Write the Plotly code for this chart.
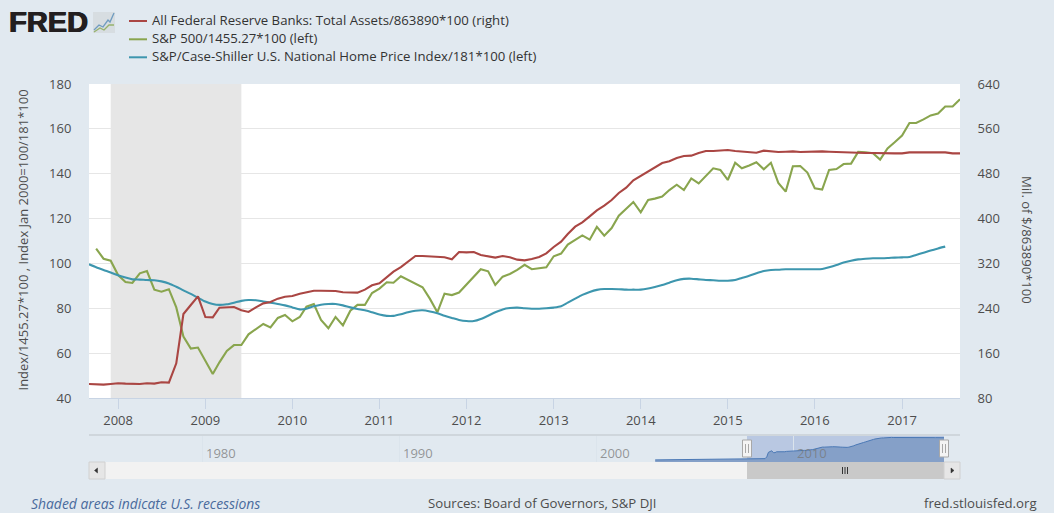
import pandas as pd
import plotly.graph_objects as go

W, H = 1054, 513

fed_name = "All Federal Reserve Banks: Total Assets/863890*100 (right)"
sp_name = "S&P 500/1455.27*100 (left)"
cs_name = "S&P/Case-Shiller U.S. National Home Price Index/181*100 (left)"

# Sep 2007 onward, monthly
fed = [105,104.4,103.8,105,106.2,105.6,105,105,106.2,105.6,108,107.4,141.8,229.8,245.9,261.3,224.5,223.9,241.1,241.1,
       242.3,236.4,233.4,241.7,248.8,251.2,257.2,260.7,261.9,266.1,269.1,271.4,271.4,271.4,270.8,268.5,267.9,267.9,273.2,281,284.5,
       294.6,305.3,313.6,323.1,333.2,333.2,332.1,331.5,330.9,327.3,340.4,339.8,340.4,335,333.2,330.3,333.2,330.9,326.7,325.5,
       327.9,331.5,338,349.3,358.8,372.5,385.6,393.3,404,414.7,423,433.1,445.6,455.1,468.2,475.9,483.1,491.4,499.1,502.1,
       508,511.6,512.2,516.9,520.5,520.5,521.7,522.3,520.5,519.9,518.7,517.5,521.1,519.9,518.7,519.3,519.9,518.7,519.3,519.3,
       519.9,519.3,518.7,517.5,517.5,517.5,516.9,516.9,516.3,515.7,516.3,516.3,518.1,518.1,518.1,516.9,517.5,518.1,516.3,516.3]
# Oct 2007 onward, monthly
sp500 = [106.6,102.1,101.2,94.8,91.7,91.3,95.6,96.6,88.3,87.4,88.5,80.4,67.4,62.0,62.5,56.6,50.7,55.9,61.0,63.6,
         63.6,68.4,70.8,73.0,71.5,75.7,77.0,74.2,76.1,80.7,81.9,74.8,71.1,76.1,72.4,78.9,81.5,81.5,86.8,88.8,
         91.6,91.4,94.3,92.6,91.1,89.4,84.2,78.2,86.5,85.9,87.0,90.5,94.1,97.4,96.5,90.4,94.1,95.3,97.1,99.4,
         97.4,97.7,98.3,103.2,104.4,108.4,110.3,112.5,110.6,116.3,112.4,115.8,121.3,124.3,127.4,122.8,128.3,128.9,129.8,132.7,
         135.1,132.7,137.9,135.7,139.0,142.4,141.7,137.2,144.9,142.4,143.7,145.1,142.0,144.9,135.9,132.0,143.3,143.4,140.5,133.5,
         132.9,141.7,142.1,144.3,144.5,149.7,149.5,149.1,146.3,151.3,154.0,157.0,162.6,162.6,164.2,166.0,166.8,170.0,170.0,173.2]
# Sep 2007 onward, monthly
case_shiller = [99.6,98.3,97.1,96.0,94.7,93.7,92.9,92.8,92.6,92.5,92.0,91.1,89.6,88.0,86.4,84.7,83.0,81.9,81.5,81.8,
                82.5,83.3,83.7,83.6,83.0,82.5,81.9,81.3,80.4,79.5,79.8,80.9,81.6,81.9,81.9,81.3,80.4,79.7,79.1,78.2,77.2,
                76.6,76.6,77.3,78.2,78.9,79.1,78.6,77.8,76.7,75.7,74.8,74.3,74.3,75.2,76.7,78.2,79.5,80.1,80.3,80.0,
                79.8,79.8,80.0,80.3,80.9,82.5,84.3,86.0,87.3,88.2,88.6,88.6,88.5,88.3,88.3,88.3,88.8,89.5,90.4,91.4,
                92.5,93.1,93.2,92.9,92.6,92.5,92.3,92.3,92.6,93.5,94.5,95.6,96.6,97.1,97.2,97.4,97.4,97.4,97.4,97.4,
                97.5,98.3,99.3,100.4,101.2,101.8,102.1,102.3,102.3,102.4,102.6,102.7,102.9,103.8,104.8,105.8,106.7,107.5]

months_fed = pd.date_range("2007-09-01", periods=len(fed), freq="MS")
months_sp = pd.date_range("2007-10-01", periods=len(sp500), freq="MS")
months_cs = pd.date_range("2007-09-01", periods=len(case_shiller), freq="MS")

# navigator's earlier history of the Fed series
nav_early_dates = ["2003-01-01", "2004-06-01", "2005-08-01", "2007-04-01"]
nav_early_values = [83, 90, 92, 105]

recession = ["2007-12-01", "2009-06-01"]
left_ticks = [40, 60, 80, 100, 120, 140, 160, 180]
right_ticks = [80, 160, 240, 320, 400, 480, 560, 640]
nav_years = ["1980", "1990", "2000", "2010"]

RED, GREEN, BLUE = "#AA4643", "#89A54E", "#3D96AE"
BG = "#e1e9f0"
FONT = "Open Sans"
TXT = "#4d4d4d"


def X(p):
    return p / W


def Y(p):
    return 1 - p / H


L, R, T, B = 89, 960, 84, 398

fig = go.Figure()
line_w = 2.1
fig.add_trace(go.Scatter(x=months_fed, y=fed, mode="lines", name=fed_name, yaxis="y2",
                         line=dict(color=RED, width=line_w)))
fig.add_trace(go.Scatter(x=months_sp, y=sp500, mode="lines", name=sp_name,
                         line=dict(color=GREEN, width=line_w)))
fig.add_trace(go.Scatter(x=months_cs, y=case_shiller, mode="lines", name=cs_name,
                         line=dict(color=BLUE, width=line_w, shape="spline", smoothing=0.7)))
fig.add_trace(go.Scatter(x=nav_early_dates + list(months_fed), y=nav_early_values + fed, mode="lines",
                         xaxis="x2", yaxis="y3", fill="tozeroy", fillcolor="#85a0c8",
                         line=dict(color="#4a78b5", width=1), hoverinfo="skip"))


def rect(x0, y0, x1, y1, fill, line=None, layer="above", lw=1):
    return dict(type="rect", xref="paper", yref="paper", x0=X(x0), x1=X(x1), y0=Y(y0), y1=Y(y1),
                fillcolor=fill, line=dict(color=line or fill, width=lw if line else 0), layer=layer)


def hline(x0, y0, x1, y1, color, w=1, layer="above"):
    return dict(type="line", xref="paper", yref="paper", x0=X(x0), x1=X(x1), y0=Y(y0), y1=Y(y1),
                line=dict(color=color, width=w), layer=layer)


def poly(pts, color=None, w=1.3, fill=None):
    d = "M " + " L ".join(f"{X(a):.5f},{Y(b):.5f}" for a, b in pts)
    if fill:
        d += " Z"
    return dict(type="path", xref="paper", yref="paper", path=d, layer="above",
                line=dict(color=color or fill, width=w), fillcolor=fill)


shapes = [rect(L, T, R, B, "#ffffff", layer="below")]
shapes.append(dict(type="rect", xref="x", yref="y domain", x0=recession[0], x1=recession[1], y0=0, y1=1,
                   fillcolor="#e6e6e6", line=dict(width=0), layer="below"))

# navigator furniture
shapes.append(hline(L, 435, R, 435, "#cfd6dc", 2))
shapes.append(rect(747, 436, 944, 462, "#b9c8e2", layer="below"))
shapes.append(rect(L, 462, R, 479, "#f2f2f2"))
shapes.append(rect(747, 462, 944, 479, "#c9c9c9"))
shapes.append(rect(L, 462, 105, 479, "#e6e6e6", "#d0d0d0"))
shapes.append(rect(944, 462, R, 479, "#e6e6e6", "#d0d0d0"))
shapes.append(poly([(97.5, 468), (97.5, 473), (94.5, 470.5)], fill="#333333", w=0.5))
shapes.append(poly([(951, 468), (951, 473), (954, 470.5)], fill="#333333", w=0.5))
for gx in (842.5, 845, 847.5):
    shapes.append(hline(gx, 467, gx, 474, "#333333", 1))
for cx in (747, 944):
    shapes.append(rect(cx - 4.5, 440, cx + 4.5, 457, "#f4f4f4", "#a8a8a8", lw=1))
    for gx in (cx - 1.5, cx + 1.5):
        shapes.append(hline(gx, 444, gx, 453, "#a8a8a8", 1))

# logo icon
shapes.append(rect(93, 12, 115, 33, "#d7dde1"))
shapes.append(poly([(94, 30), (99, 25), (103, 27), (108, 20), (110, 22), (114, 13)], color="#6f9cc0", w=1.3))
shapes.append(poly([(94, 32), (100, 28), (104, 30), (109, 25), (114, 25)], color="#96b26c", w=1.3))

# legend samples
legend_rows = [(fed_name, RED, 19.7), (sp_name, GREEN, 38), (cs_name, BLUE, 56)]
for _, col, yy in legend_rows:
    shapes.append(hline(129, yy + 1.3, 147, yy + 1.3, col, 2))

ann = []


def text(s, x, y, size=13, color=TXT, xanchor="left", angle=0, family=FONT, yanchor="middle", shadow=None):
    f = dict(size=size, color=color, family=family)
    if shadow:
        f["shadow"] = shadow
    ann.append(dict(text=s, x=X(x), y=Y(y), xref="paper", yref="paper", showarrow=False, xanchor=xanchor,
                    yanchor=yanchor, textangle=angle, font=f, borderpad=0, borderwidth=0))


for name, _, yy in legend_rows:
    text(name, 152, yy, size=13.2, color="#333333")

text("<b>FRED</b>", 8.5, 22, size=29, color="#231f20", family="Liberation Sans",
     shadow="0.7px 0 0 #231f20, -0.4px 0 0 #231f20")
text("Index/1455.27*100 , Index Jan 2000=100/181*100", 22, 240.5, size=13, angle=-90, xanchor="center")
text("Mil. of $/863890*100", 1027, 240, size=13.1, angle=90, xanchor="center")
text("<i>Shaded areas indicate U.S. recessions</i>", 31, 503, size=13.9, color="#4a6b9d")
text("Sources: Board of Governors, S&P DJI", 427.5, 503, size=13.2)
text("fred.stlouisfed.org", 1037, 503, size=13.2, xanchor="right")
for yr in nav_years:
    ann.append(dict(text=yr, x=f"{yr}-01-01", y=Y(453), xref="x2", yref="paper", showarrow=False,
                    xanchor="left", yanchor="middle", xshift=3, borderpad=0,
                    font=dict(size=13, color="rgba(120,120,120,0.75)", family=FONT)))

fig.update_layout(
    width=W, height=H, autosize=False,
    margin=dict(l=0, r=0, t=0, b=0, pad=0, autoexpand=False),
    paper_bgcolor=BG, plot_bgcolor="rgba(0,0,0,0)",
    showlegend=False,
    font=dict(family=FONT, color=TXT, size=13),
    shapes=shapes, annotations=ann,
    xaxis=dict(domain=[X(L), X(R)], range=["2007-09-01", "2017-09-01"], type="date", anchor="y", automargin=False,
               tick0="2008-01-01", dtick="M12", tickformat="%Y", ticks="outside", ticklen=10,
               tickcolor="#c8d4e4", tickwidth=1, showgrid=False, zeroline=False,
               showline=True, linecolor="#c8d4e4", linewidth=1, tickfont=dict(size=13, color=TXT)),
    yaxis=dict(domain=[Y(B), Y(T)], range=[40, 180], tickvals=left_ticks, ticks="outside", ticklen=14,
               automargin=False,
               tickcolor="rgba(0,0,0,0)", gridcolor="#e6e6e6", gridwidth=1, zeroline=False, showline=False,
               tickfont=dict(size=13, color=TXT), anchor="x"),
    yaxis2=dict(domain=[Y(B), Y(T)], range=[80, 640], tickvals=right_ticks, overlaying="y", side="right",
                automargin=False,
                ticks="outside", ticklen=14, tickcolor="rgba(0,0,0,0)", showgrid=False, zeroline=False,
                showline=False, tickfont=dict(size=13, color=TXT), anchor="x"),
    xaxis2=dict(domain=[X(L), X(R)], range=["1974-04-01", "2018-06-25"], type="date", anchor="y3", automargin=False,
                tick0="1980-01-01", dtick="M120", showticklabels=False, ticks="",
                showgrid=True, gridcolor="#dbe4ec", zeroline=False, showline=False),
    yaxis3=dict(domain=[Y(462), Y(436)], range=[41.5, 550], visible=False, anchor="x2", automargin=False),
)

fig.write_html("out.html", post_script="document.body.style.margin='0';document.body.style.overflow='hidden';",
               config=dict(displayModeBar=False))
